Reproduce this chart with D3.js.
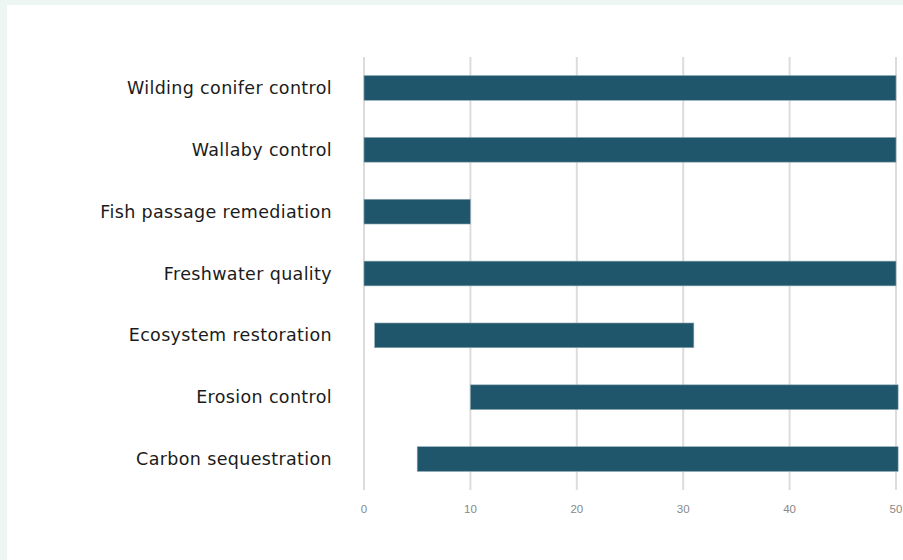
<!DOCTYPE html>
<html>
<head>
<meta charset="utf-8">
<script src="https://cdn.jsdelivr.net/npm/d3@7"></script>
<style>
  html, body { margin: 0; padding: 0; background: #eef6f4; }
  #chart { position: absolute; left: 7px; top: 5px; width: 896px; height: 555px; background: #fff; }
</style>
</head>
<body>
<div id="chart"></div>
<script>
// range bars: each activity has a start and an end value
const categories = ["Wilding conifer control", "Wallaby control", "Fish passage remediation",
  "Freshwater quality", "Ecosystem restoration", "Erosion control", "Carbon sequestration"];
const starts = [0, 0, 0, 0, 1, 10, 5];
const ends = [50, 50, 10, 50, 31, 50.2, 50.2];
const ticks = [0, 10, 20, 30, 40, 50];

const width = 896, height = 555;
const ox = 7, oy = 5; // offset of the white panel inside the page

const svg = d3.select("#chart").append("svg")
  .attr("width", width)
  .attr("height", height);

const x = d3.scaleLinear()
  .domain([0, 50])
  .range([364 - ox, 896 - ox]);

const y = d3.scaleBand()
  .domain(categories)
  .range([57 - oy, 490 - oy])
  .paddingInner(0.6)
  .paddingOuter(0.3);

// gridlines
svg.append("g")
  .selectAll("line")
  .data(ticks)
  .join("line")
    .attr("x1", d => x(d))
    .attr("x2", d => x(d))
    .attr("y1", 57 - oy)
    .attr("y2", 490 - oy)
    .attr("stroke", "#dcdcdc")
    .attr("stroke-width", 2);

// tick labels
svg.append("g")
  .selectAll("text")
  .data(ticks)
  .join("text")
    .attr("x", d => x(d))
    .attr("y", 509 - oy)
    .attr("dy", "0.35em")
    .attr("text-anchor", "middle")
    .attr("font-family", "Liberation Sans, Arial, sans-serif")
    .attr("font-size", 11.5)
    .attr("fill", "#888888")
    .text(d => d);

// bars
const rows = categories.map((c, i) => ({name: c, start: starts[i], end: ends[i]}));

svg.append("g")
  .selectAll("rect")
  .data(rows)
  .join("rect")
    .attr("x", d => x(d.start))
    .attr("y", d => y(d.name))
    .attr("width", d => x(d.end) - x(d.start))
    .attr("height", y.bandwidth())
    .attr("fill", "#1f566b")
    .attr("stroke", "#8fa9b3")
    .attr("stroke-width", 0.6);

// category labels
svg.append("g")
  .selectAll("text")
  .data(categories)
  .join("text")
    .attr("x", 332 - ox)
    .attr("y", d => y(d) + y.bandwidth() / 2)
    .attr("dy", "0.35em")
    .attr("text-anchor", "end")
    .attr("font-family", "DejaVu Sans, sans-serif")
    .attr("font-size", 17.5)
    .attr("letter-spacing", 0.35)
    .attr("fill", "#1b1b1b")
    .text(d => d);
</script>
</body>
</html>
